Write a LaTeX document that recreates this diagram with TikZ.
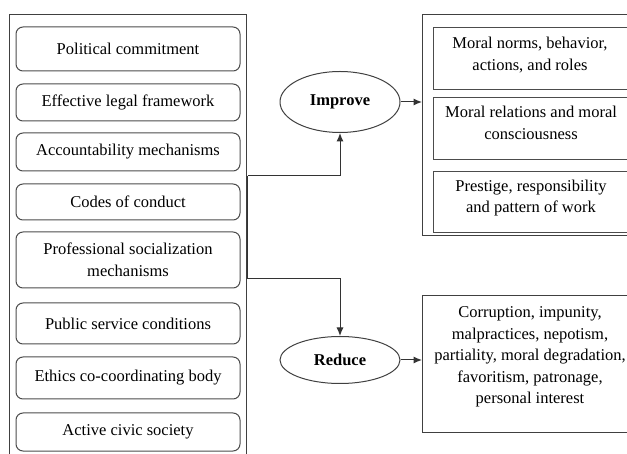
\documentclass[tikz,border=0pt]{standalone}
\usepackage{fontspec}
\setmainfont{Liberation Serif}
\usetikzlibrary{arrows.meta,shapes.geometric}
\begin{document}
\begin{tikzpicture}[x=1pt,y=-1pt,
  every node/.style={font=\fontsize{16.5}{21.5}\selectfont, text=black},
  outerbox/.style={draw=black!75, line width=1pt, fill=none},
  rbox/.style={draw=black!70, line width=1pt, rounded corners=7pt, minimum width=224pt, inner sep=0pt, align=center},
  sbox/.style={draw=black!70, line width=1pt, inner sep=0pt},
  oval/.style={ellipse, draw=black!75, line width=1pt, minimum width=120pt, inner sep=0pt, font=\fontsize{16.5}{21.5}\selectfont\bfseries},
  txt/.style={align=center, inner sep=0pt},
  conn/.style={draw=black!80, line width=1pt},
  arr/.style={conn, -{Latex[length=8.5pt,width=7pt]}}
]
\useasboundingbox (0,0) rectangle (627,454);
\clip (0,0) rectangle (627,454);

% left panel
\node[outerbox, anchor=north west, minimum width=237pt, minimum height=470pt, inner sep=0pt] (left) at (9,14) {};
\node[rbox, minimum height=44pt] (b1) at (128,49) {Political commitment};
\node[rbox, minimum height=37pt] (b2) at (128,102.5) {Effective legal framework};
\node[rbox, minimum height=38pt] (b3) at (128,152) {Accountability mechanisms};
\node[rbox, minimum height=36pt] (b4) at (128,202) {Codes of conduct};
\node[rbox, minimum height=56pt] (b5) at (128,260) {Professional socialization\\mechanisms};
\node[rbox, minimum height=41pt] (b6) at (128,323.5) {Public service conditions};
\node[rbox, minimum height=42pt] (b7) at (128,378) {Ethics co-coordinating body};
\node[rbox, minimum height=38pt] (b8) at (128,432) {Active civic society};

% ellipses
\node[oval, minimum height=61pt] (improve) at (340,102) {Improve};
\node[oval, minimum height=47pt] (reduce) at (340,360) {Reduce};

% right top panel
\node[outerbox, anchor=north west, minimum width=240pt, minimum height=221pt, inner sep=0pt] (rtop) at (422,14) {};
\node[sbox, anchor=north west, minimum width=220pt, minimum height=62pt] (m1) at (433,27) {};
\node[sbox, anchor=north west, minimum width=220pt, minimum height=62pt] (m2) at (433,97) {};
\node[sbox, anchor=north west, minimum width=220pt, minimum height=61pt] (m3) at (433,171) {};
\node[txt] (m1t) at (530,55) {Moral norms, behavior,\\actions, and roles};
\node[txt] (m2t) at (531,123) {Moral relations and moral\\consciousness};
\node[txt] (m3t) at (531,198) {Prestige, responsibility\\and pattern of work};

% right bottom panel
\node[outerbox, anchor=north west, minimum width=240pt, minimum height=137pt, inner sep=0pt] (rbot) at (422,295) {};
\node[txt] (rbt) at (530,357) {Corruption, impunity,\\malpractices, nepotism,\\partiality, moral degradation,\\favoritism, patronage,\\personal interest};

% connectors
\coordinate (jtop) at (247.5,176);
\coordinate (jbot) at (247.5,279);
\draw[conn] (jtop) -- (jbot);
\draw[arr] (jtop) -| (improve.south);
\draw[arr] (jbot) -| (reduce.north);
\draw[arr] (improve.east) -- (improve.east -| rtop.west);
\draw[arr] (reduce.east) -- (reduce.east -| rbot.west);
\end{tikzpicture}
\end{document}
